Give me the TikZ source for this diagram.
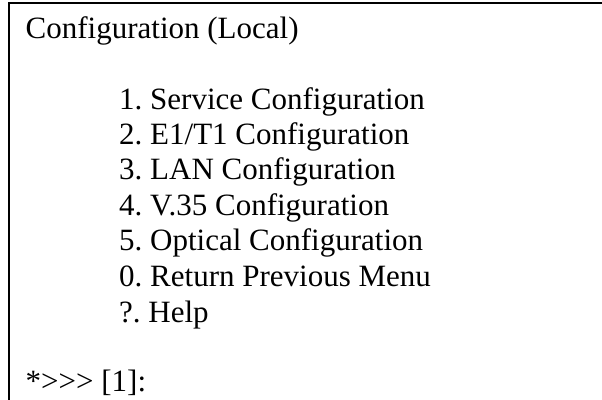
\documentclass[tikz,border=0pt]{standalone}
\usepackage{fontspec}
\setmainfont{Liberation Serif}
\begin{document}
\frenchspacing
\begin{tikzpicture}[x=1pt,y=1pt,
  menutext/.style={anchor=base west,inner sep=0pt,font=\fontsize{31}{36}\selectfont},
  frame/.style={line width=2pt,line cap=rect}]
\useasboundingbox (0,0) rectangle (602,399);
% open frame: top rule and left rule only
\coordinate (tl) at (8.5,396);
\coordinate (tr) at (602,396);
\coordinate (bl) at (8.5,0);
\draw[frame] (tr) -- (tl) -- (bl);
% title
\node[menutext] (title) at (25.5,360) {Configuration (Local)};
% menu entries
\node[menutext] (m1) at (119,289) {1. Service Configuration};
\node[menutext] (m2) at (119,254) {2. E1/T1 Configuration};
\node[menutext] (m3) at (119,219) {3. LAN Configuration};
\node[menutext] (m4) at (119,183.5) {4. V.35 Configuration};
\node[menutext] (m5) at (119,148) {5. Optical Configuration};
\node[menutext] (m0) at (119,112.5) {0. Return Previous Menu};
\node[menutext] (mh) at (119,76.5) {?. Help};
% prompt (each > boxed so no guillemet mapping kicks in)
\node[menutext] (prompt) at (25.5,8) {*\mbox{>}\mbox{>}\mbox{>} [1]:};
\end{tikzpicture}
\end{document}
